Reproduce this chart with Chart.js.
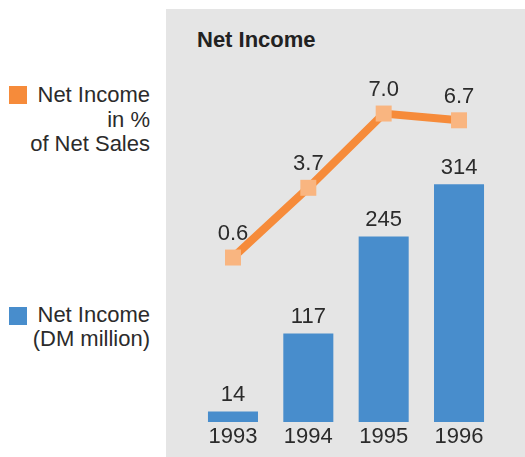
<!DOCTYPE html>
<html>
<head>
<meta charset="utf-8">
<script src="https://cdn.jsdelivr.net/npm/chart.js@4.4.1/dist/chart.umd.min.js"></script>
<style>
  html, body { margin:0; padding:0; background:#fff; }
  body { width:525px; height:457px; position:relative; overflow:hidden;
         font-family:"Liberation Sans", Arial, sans-serif; color:#2b2b2b; }
  #panel { position:absolute; left:166px; top:9px; width:359px; height:448px; background:#e5e5e5; }
  #title { position:absolute; left:197px; top:27px; font-size:22px; font-weight:bold; line-height:26px; color:#222; }
  .leg { position:absolute; left:0; width:150px; text-align:right; font-size:22px; }
  .sw { position:absolute; left:9px; width:18px; height:18px; }
  canvas { position:absolute; left:0; top:0; }
</style>
</head>
<body>
<div id="panel"></div>
<div id="title">Net Income</div>
<div class="sw" id="sw1" style="top:86px"></div>
<div class="leg" id="leg1" style="top:83px; line-height:24.5px"></div>
<div class="sw" id="sw2" style="top:307px"></div>
<div class="leg" id="leg2" style="top:303px; line-height:24px"></div>
<canvas id="graf" width="525" height="457"></canvas>
<script>
const years = ["1993", "1994", "1995", "1996"];
const netIncome = [14, 117, 245, 314];          // DM million
const netIncomePct = [0.6, 3.7, 7.0, 6.7];      // % of net sales
const legendPct = ["Net Income", "in %", "of Net Sales"];
const legendDM = ["Net Income", "(DM million)"];

const blue = "#488dcc";
const orange = "#f68b3a";
const orangeLight = "#f9b580";

document.getElementById("leg1").innerHTML = legendPct.join("<br>");
document.getElementById("leg2").innerHTML = legendDM.join("<br>");
document.getElementById("sw1").style.background = orange;
document.getElementById("sw2").style.background = blue;

// value labels above bars and points
const valueLabels = {
  id: "valueLabels",
  afterDatasetsDraw(chart) {
    const ctx = chart.ctx;
    ctx.save();
    ctx.font = "22px 'Liberation Sans', Arial, sans-serif";
    ctx.fillStyle = "#2b2b2b";
    ctx.textAlign = "center";
    ctx.textBaseline = "alphabetic";
    chart.data.datasets.forEach((ds, i) => {
      const meta = chart.getDatasetMeta(i);
      meta.data.forEach((el, j) => {
        const v = ds.data[j];
        if (ds.type === "line") {
          ctx.fillText(v.toFixed(1), el.x, el.y - 17.5);
        } else {
          ctx.fillText(String(v), el.x, el.y - 10);
        }
      });
    });
    ctx.restore();
  }
};

new Chart(document.getElementById("graf"), {
  data: {
    labels: years,
    datasets: [
      {
        type: "line",
        label: legendPct.join(" "),
        data: netIncomePct,
        yAxisID: "y1",
        borderColor: orange,
        borderWidth: 8,
        pointStyle: "rect",
        pointRadius: 11.3,
        pointBorderWidth: 0,
        pointBackgroundColor: orangeLight,
        tension: 0,
        order: 0
      },
      {
        type: "bar",
        label: legendDM.join(" "),
        data: netIncome,
        yAxisID: "y",
        backgroundColor: blue,
        barPercentage: 0.664,
        categoryPercentage: 1,
        order: 1
      }
    ]
  },
  options: {
    responsive: false,
    animation: false,
    layout: { padding: { left: 195.3, right: 28.3, top: 60, bottom: 4.6 } },
    plugins: { legend: { display: false }, tooltip: { enabled: false } },
    scales: {
      x: {
        grid: { display: false, drawTicks: false },
        border: { display: false },
        ticks: { padding: 2, color: "#2b2b2b", font: { size: 22, family: "'Liberation Sans', Arial, sans-serif" } }
      },
      y: { display: false, min: 0, max: 478 },
      y1: { display: false, min: -6.71, max: 9.38 }
    }
  },
  plugins: [valueLabels]
});
</script>
</body>
</html>
